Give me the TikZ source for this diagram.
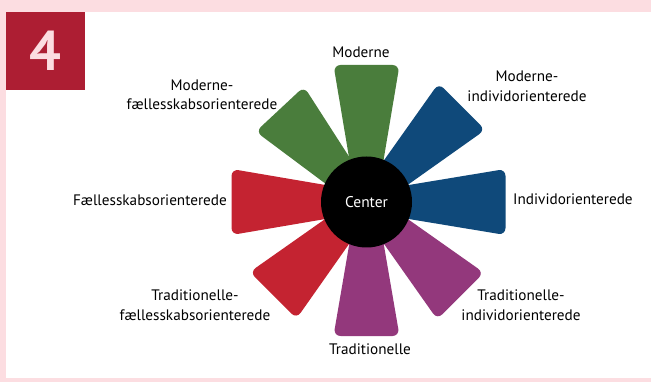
\documentclass[tikz,border=0pt]{standalone}
\usepackage{fontspec}
\setmainfont{PT Sans}
\definecolor{bgpink}{HTML}{FCDDE1}
\definecolor{boxred}{HTML}{AD1E33}
\definecolor{modgreen}{HTML}{4A7D3C}
\definecolor{indblue}{HTML}{0F497A}
\definecolor{tradpurple}{HTML}{93387C}
\definecolor{fred}{HTML}{C42331}
\tikzset{
  lbl/.style={font=\fontsize{15.2}{19.5}\selectfont, align=center, inner sep=0pt, text=black},
  petal/.style={rounded corners=7pt}
}
\begin{document}
\begin{tikzpicture}[x=1pt,y=-1pt]
\fill[bgpink] (0,0) rectangle (651,382);
\fill[white] (6,12) rectangle (651,378);
\useasboundingbox (0,0) rectangle (651,382);
\fill[boxred] (6,12) rectangle (85,90);
\node[font=\fontsize{56}{56}\selectfont\bfseries, text=bgpink, inner sep=0pt] (num) at (45.5,51) {4};
\coordinate (c) at (366.5,202);
\foreach \ang/\len/\col in {90/137/modgreen, 45/135/indblue, 0/139/indblue, -45/133/tradpurple, -90/134/tradpurple, -135/132/fred, 180/135/fred, 133/127/modgreen}{
  \begin{scope}[shift={(c)}, rotate=\ang]
    \fill[\col, petal] (0,-10) -- (\len,-33) -- (\len,33) -- (0,10) -- cycle;
  \end{scope}
}
\node[circle, fill=black, minimum size=91pt, inner sep=0pt, text=white, font=\fontsize{15.5}{17}\selectfont] (center) at (c) {Center};
\node[lbl] (mod) at (361,52) {Moderne};
\node[lbl] (modind) at (527,86.5) {Moderne-\\individorienterede};
\node[lbl, anchor=west] (ind) at (513,199) {Individorienterede};
\node[lbl] (tradind) at (521,305) {Traditionelle-\\individorienterede};
\node[lbl] (trad) at (370,349) {Traditionelle};
\node[lbl] (tradfael) at (195,305) {Traditionelle-\\fællesskabsorienterede};
\node[lbl, anchor=east] (fael) at (227,200) {Fællesskabsorienterede};
\node[lbl] (modfael) at (202,95) {Moderne-\\fællesskabsorienterede};
\end{tikzpicture}
\end{document}
